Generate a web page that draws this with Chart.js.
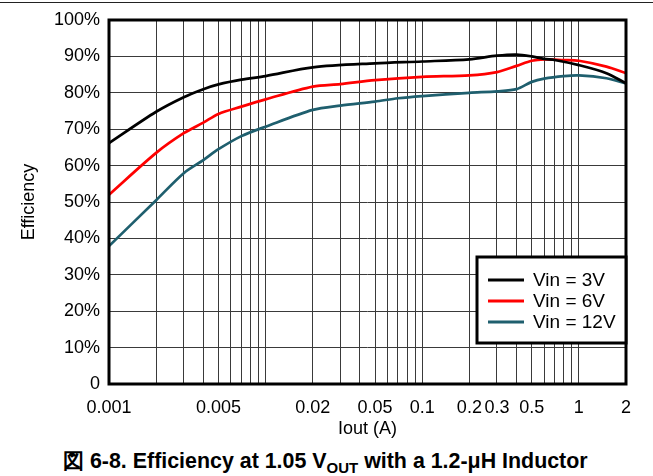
<!DOCTYPE html>
<html>
<head>
<meta charset="utf-8">
<script src="https://cdn.jsdelivr.net/npm/chart.js@4.4.1/dist/chart.umd.min.js"></script>
<style>
  body { margin: 0; background: #fff; font-family: "Liberation Sans", Arial, sans-serif; }
  #wrap { position: relative; width: 653px; height: 476px; }
  #topline { position: absolute; left: 0; top: 2px; width: 653px; height: 1px; background: #222; }
  #box { position: absolute; left: 0; top: 0; width: 653px; height: 440px; }
  #caption { position: absolute; left: 63px; top: 449px; white-space: nowrap;
    font-weight: bold; font-size: 21.4px; line-height: 24px; color: #000; }
  sub { font-size: 15px; vertical-align: -5px; line-height: 0; }
</style>
</head>
<body>
<div id="wrap">
  <div id="topline"></div>
  <div id="box"><canvas id="eff"></canvas></div>
  <div id="caption">図 6-8. Efficiency at 1.05 V<sub>OUT</sub> with a 1.2-μH Inductor</div>
</div>
<script>
const vin3X = [0.001, 0.002, 0.003, 0.004, 0.005, 0.007, 0.01, 0.02, 0.05, 0.1, 0.2, 0.3, 0.4, 0.5, 0.6, 0.7, 1, 1.5, 2];
const vin3Y = [66.2, 74.8, 78.8, 81.0, 82.3, 83.6, 84.6, 87.0, 88.1, 88.6, 89.2, 90.2, 90.5, 90.0, 89.3, 89.0, 87.6, 85.4, 82.6];

const vin6X = [0.001, 0.002, 0.003, 0.004, 0.005, 0.007, 0.01, 0.02, 0.03, 0.05, 0.1, 0.2, 0.3, 0.4, 0.5, 0.6, 0.8, 1, 1.5, 2];
const vin6Y = [52.0, 63.5, 68.9, 71.8, 74.2, 76.2, 78.2, 81.7, 82.4, 83.5, 84.4, 84.8, 85.7, 87.4, 88.8, 89.2, 89.0, 88.8, 87.2, 85.4];

const vin12X = [0.001, 0.002, 0.003, 0.004, 0.005, 0.007, 0.01, 0.02, 0.03, 0.05, 0.07, 0.1, 0.2, 0.3, 0.4, 0.5, 0.6, 0.8, 1, 1.5, 2];
const vin12Y = [37.9, 50.5, 57.9, 61.5, 64.5, 68.1, 70.7, 75.3, 76.5, 77.6, 78.5, 79.1, 80.0, 80.4, 81.0, 83.0, 83.9, 84.6, 84.8, 84.0, 82.6];

const xLabels = [0.001, 0.005, 0.02, 0.05, 0.1, 0.2, 0.3, 0.5, 1, 2];
const yTicks = [0, 10, 20, 30, 40, 50, 60, 70, 80, 90, 100];

const seriesNames = ['Vin = 3V', 'Vin = 6V', 'Vin = 12V'];
const seriesColors = ['#000000', '#ff0000', '#1f5f6e'];

const FONT = '"Liberation Sans", Arial, sans-serif';

function pts(xs, ys) {
  return xs.map((x, i) => ({ x: x, y: ys[i] }));
}

// every 1..9 step of each decade, up to 2
const gridX = [];
for (let e = -3; e <= 0; e++) {
  for (let m = 1; m <= 9; m++) {
    const v = +(m * Math.pow(10, e)).toPrecision(3);
    if (v <= 2) gridX.push(v);
  }
}

const frame = {
  id: 'frame',
  afterDatasetsDraw(chart) {
    const a = chart.chartArea;
    const ctx = chart.ctx;
    ctx.save();
    ctx.strokeStyle = '#000';
    ctx.lineWidth = 3;
    ctx.strokeRect(a.left, a.top, a.right - a.left, a.bottom - a.top);

    // legend box
    const bx = 477, by = 257, bw = a.right - 477, bh = 86;
    ctx.fillStyle = '#fff';
    ctx.fillRect(bx, by, bw, bh);
    ctx.lineWidth = 3;
    ctx.strokeStyle = '#000';
    ctx.strokeRect(bx, by, bw, bh);
    ctx.font = '19px ' + FONT;
    ctx.textBaseline = 'middle';
    chart.data.datasets.forEach((ds, i) => {
      const y = 280 + i * 21;
      ctx.strokeStyle = ds.borderColor;
      ctx.lineWidth = 3;
      ctx.beginPath();
      ctx.moveTo(488, y);
      ctx.lineTo(524, y);
      ctx.stroke();
      ctx.fillStyle = '#000';
      ctx.fillText(ds.label, 533, y + 1);
    });
    ctx.restore();
  }
};

new Chart(document.getElementById('eff'), {
  type: 'line',
  data: {
    datasets: [
      { label: seriesNames[0], data: pts(vin3X, vin3Y), borderColor: seriesColors[0] },
      { label: seriesNames[1], data: pts(vin6X, vin6Y), borderColor: seriesColors[1] },
      { label: seriesNames[2], data: pts(vin12X, vin12Y), borderColor: seriesColors[2] }
    ].map(d => Object.assign(d, { borderWidth: 2.7, pointRadius: 0, tension: 0.3, fill: false }))
  },
  options: {
    responsive: true,
    maintainAspectRatio: false,
    animation: false,
    layout: { padding: { left: 14, top: 20, right: 27, bottom: 0 } },
    plugins: {
      legend: { display: false },
      tooltip: { enabled: false }
    },
    scales: {
      x: {
        type: 'logarithmic',
        min: 0.001,
        max: 2,
        afterBuildTicks: s => { s.ticks = gridX.map(v => ({ value: v })); },
        afterFit: s => { s.height = 56; },
        ticks: {
          autoSkip: false,
          maxRotation: 0,
          padding: 13,
          color: '#000',
          font: { size: 18, family: FONT },
          callback: v => xLabels.includes(+(+v).toPrecision(3)) ? String(+(+v).toPrecision(3)) : ''
        },
        grid: { color: '#3a3a3a', lineWidth: 1, drawTicks: false },
        border: { display: false },
        title: {
          display: true,
          text: 'Iout (A)',
          color: '#000',
          padding: { top: 0, bottom: 0 },
          font: { size: 18, family: FONT }
        }
      },
      y: {
        min: 0,
        max: 100,
        afterBuildTicks: s => { s.ticks = yTicks.map(v => ({ value: v })); },
        afterFit: s => { s.width = 95; },
        ticks: {
          padding: 9,
          color: '#000',
          font: { size: 18, family: FONT },
          callback: v => v === 0 ? '0' : v + '%'
        },
        grid: { color: '#3a3a3a', lineWidth: 1, drawTicks: false },
        border: { display: false },
        title: {
          display: true,
          text: 'Efficiency',
          color: '#000',
          padding: { top: 4, bottom: 4 },
          font: { size: 18, family: FONT }
        }
      }
    }
  },
  plugins: [frame]
});
</script>
</body>
</html>
